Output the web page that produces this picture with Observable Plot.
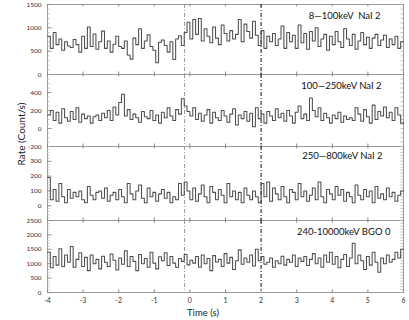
<!DOCTYPE html>
<html><head><meta charset="utf-8">
<script src="https://cdn.jsdelivr.net/npm/d3@7"></script>
<script src="https://cdn.jsdelivr.net/npm/@observablehq/plot@0.6"></script>
<style>
body{margin:0;background:#fff;}
#wrap{position:relative;width:409px;height:320px;font-family:Lato,"Open Sans",sans-serif;overflow:hidden;}
#wrap svg{position:absolute;left:0;overflow:visible;}
#ylab{position:absolute;left:21px;top:134px;transform:translate(-50%,-50%) rotate(-90deg);font-size:10px;color:#222;white-space:nowrap;}
#xlab{position:absolute;left:203px;top:312px;transform:translate(-50%,-50%);font-size:9.5px;color:#222;white-space:nowrap;}
</style></head><body><div id="wrap"><div id="ylab">Rate (Count/s)</div><div id="xlab">Time (s)</div></div>
<script>
// ---- data ----
const binStart = -4, binWidth = 0.08;
const markerTimes = [-0.15, 2];
const xTicks = [-4,-3,-2,-1,0,1,2,3,4,5,6];
const labels = ["8\u2014100keV  NaI 2", "100\u2014250keV NaI 2", "250\u2014800keV NaI 2", "240-10000keV BGO 0"];
const rateNaI2_8_100 = [
 820,560,900,640,760,520,700,610,580,750,
 640,480,820,560,1020,600,870,540,700,930,
 560,720,480,650,820,600,560,720,420,330,
 780,640,980,560,720,850,600,520,250,690,
 740,620,480,700,320,760,830,620,900,1120,
 760,1180,860,1200,720,980,820,680,1020,780,
 640,1060,880,720,940,760,860,1180,700,1080,
 920,780,1140,840,620,940,560,820,700,880,
 620,760,1040,560,900,700,840,560,1060,680,
 880,540,920,720,1000,600,760,860,520,820,
 640,920,700,580,980,760,620,860,540,720,
 900,640,800,560,780,860,620,740,840,580,
 760,640,820,560,700];
const rateNaI2_100_250 = [
 150,200,90,180,60,220,120,80,190,100,
 230,70,160,110,140,60,130,150,90,170,
 120,200,90,240,150,290,380,140,210,100,
 160,120,70,190,130,110,200,90,150,60,
 180,120,230,140,90,210,160,330,250,190,
 140,230,100,170,80,150,210,60,180,120,
 90,200,140,70,160,220,40,150,110,190,
 80,170,20,230,110,160,60,190,140,90,
 220,120,170,80,200,140,60,180,250,110,
 160,90,340,200,130,230,90,170,120,60,
 150,110,180,70,140,100,120,90,230,160,
 80,210,130,60,260,100,190,140,240,120,
 180,90,230,150,60];
const rateNaI2_250_800 = [
 190,40,110,30,150,60,20,110,50,90,
 60,100,40,20,130,70,40,90,100,50,
 120,30,70,90,40,110,60,20,150,80,
 40,100,140,50,20,120,60,90,30,80,
 110,50,90,20,60,40,150,70,160,100,
 40,120,30,80,140,60,20,130,90,40,
 110,70,20,150,60,100,40,90,20,120,
 70,40,100,60,20,150,60,160,30,120,
 80,40,130,60,20,110,90,40,150,60,
 100,30,70,120,40,160,60,20,110,80,
 40,130,70,110,30,90,60,20,140,70,
 40,110,60,100,20,130,50,80,40,120,
 60,90,30,70,100];
const rateBGO0_240_10000 = [
 1400,860,1250,950,1520,900,1300,1050,1600,880,
 1150,1380,900,1220,760,1300,1000,1150,820,1260,
 1050,900,1340,1120,780,1200,980,1450,900,1250,
 1080,760,1320,1000,1180,880,1400,1020,820,1240,
 1100,1380,940,1250,1020,880,1180,1080,1320,960,
 1120,1020,1250,880,1300,1000,1180,760,1280,1060,
 1150,900,1350,1020,1220,800,1100,1480,980,1200,
 1050,1300,920,1500,1100,1250,980,1050,1200,880,
 1100,1000,1260,950,1150,1050,1300,900,1200,1080,
 1250,940,1150,1350,1000,1200,880,1300,1050,1400,
 980,1250,860,1150,1320,900,1200,1710,1000,1300,
 1100,800,1250,950,1400,1050,700,1200,1000,1300,
 1050,1150,1400,1200,1500];
const yDomains = [[0,1500],[-200,600],[-100,400],[0,2500]];
const yMajor = [[0,500,1000,1500],[-200,0,200,400],[0,100,200,300],[0,500,1000,1500,2000,2500]];
const yMinorStep = [100,50,20,100];

// ---- layout ----
const series = [rateNaI2_8_100, rateNaI2_100_250, rateNaI2_250_800, rateBGO0_240_10000];
const layout = [
 {top:0, height:74, mt:4, mb:0, ldy:11, ldx:-23},
 {top:74, height:72, mt:0, mb:0, ldy:11, ldx:-22},
 {top:146, height:74, mt:0, mb:0, ldy:9, ldx:-21},
 {top:220, height:100, mt:0, mb:28, ldy:11, ldx:-13}
];
const fmt = d => String(d);
const wrap = document.getElementById("wrap");
series.forEach((vals, k) => {
  const rows = vals.map((v, i) => ({t: binStart + i*binWidth, v}));
  rows.push({t: binStart + vals.length*binWidth, v: vals[vals.length-1]});
  const [y0, y1] = yDomains[k];
  const span = y1 - y0;
  const minor = d3.range(y0, y1 + 1e-9, yMinorStep[k]);
  const L = layout[k];
  const marks = [
    Plot.frame({stroke: "#9a9a9a", strokeWidth: 1}),
    Plot.ruleY(minor, {x1: -4, x2: -3.93, stroke: "#b5b5b5", strokeWidth: 0.8}),
    Plot.ruleY(minor, {x1: 5.93, x2: 6, stroke: "#b5b5b5", strokeWidth: 0.8}),
    Plot.ruleY(yMajor[k], {x1: -4, x2: -3.87, stroke: "#888", strokeWidth: 0.8}),
    Plot.ruleX(xTicks, {y1: y1, y2: y1 - span*0.035, stroke: "#888"}),
    Plot.ruleX(xTicks, {y1: y0, y2: y0 + span*0.035, stroke: "#888"}),
    Plot.ruleX([markerTimes[0]], {stroke: "#9a9a9a", strokeWidth: 1, strokeDasharray: "4,2,1,2"}),
    Plot.ruleX([markerTimes[1]], {stroke: "#111", strokeWidth: 1, strokeDasharray: "4,2,1,2"}),
    Plot.line(rows, {x: "t", y: "v", curve: "step-after", stroke: "#4d4d4d", strokeWidth: 1.05}),
    Plot.text([labels[k]], {frameAnchor: "top-right", dx: L.ldx, dy: L.ldy, textAnchor: "end", lineAnchor: "middle", fontSize: 9.5, fill: "#111"}),
    Plot.axisY({ticks: yMajor[k], tickSize: 0, tickPadding: 6, fontSize: 6.5, label: null, fill: "#333", tickFormat: fmt})
  ];
  if (k === 3) marks.push(Plot.axisX({ticks: xTicks, tickSize: 0, tickPadding: 6, fontSize: 7, label: null, tickFormat: fmt, fill: "#333"}));
  const svg = Plot.plot({
    width: 409, height: L.height,
    marginLeft: 47, marginRight: 6, marginTop: L.mt, marginBottom: L.mb,
    x: {domain: [-4, 6], axis: k === 3 ? undefined : null},
    y: {domain: yDomains[k]},
    style: {background: "transparent", fontFamily: "Lato, 'Open Sans', sans-serif"},
    marks
  });
  svg.style.top = L.top + "px";
  wrap.appendChild(svg);
});
</script></body></html>
